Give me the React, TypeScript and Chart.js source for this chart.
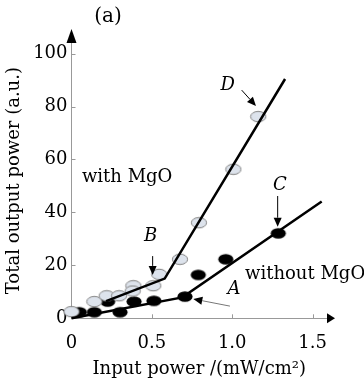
import React, { useEffect, useRef } from 'react';
import Chart from 'chart.js/auto';

// ---- data ----
const withMgOPoints = [
  { x: 0.0, y: 2.5 }, { x: 0.142, y: 6.3 }, { x: 0.219, y: 8.5 }, { x: 0.296, y: 8.5 },
  { x: 0.385, y: 12.3 }, { x: 0.381, y: 10.3 }, { x: 0.509, y: 12.3 }, { x: 0.546, y: 16.6 },
  { x: 0.675, y: 22.3 }, { x: 0.793, y: 36.1 }, { x: 1.007, y: 56.3 }, { x: 1.162, y: 76.2 },
];
const withoutMgOPoints = [
  { x: 0.049, y: 2.3 }, { x: 0.142, y: 2.3 }, { x: 0.225, y: 6.3 }, { x: 0.302, y: 2.3 },
  { x: 0.389, y: 6.3 }, { x: 0.513, y: 6.6 }, { x: 0.706, y: 8.2 }, { x: 0.789, y: 16.4 },
  { x: 0.96, y: 22.3 }, { x: 1.287, y: 32.1 },
];
const withMgOFit = [{ x: 0.215, y: 6.5 }, { x: 0.58, y: 15 }, { x: 1.329, y: 90.4 }];
const withoutMgOFit = [{ x: 0, y: 0 }, { x: 0.69, y: 7.9 }, { x: 1.557, y: 44.1 }];

const xTicks = [0, 0.5, 1.0, 1.5];
const yTicks = [0, 20, 40, 60, 80, 100];
const xTickLabels = ['0', '0.5', '1.0', '1.5'];
const yTickLabels = ['0', '20', '40', '60', '80', '100'];

const xTitle = 'Input power /(mW/cm\u00B2)';
const yTitle = 'Total output power (a.u.)';

const textNotes = [
  { text: '(a)', x: 0.227, y: 113.8, italic: false, align: 'center', size: 20 },
  { text: 'with MgO', x: 0.065, y: 53.4, italic: false, align: 'left', size: 18 },
  { text: 'without MgO', x: 1.08, y: 16.7, italic: false, align: 'left', size: 18 },
  { text: 'B', x: 0.493, y: 30.8, italic: true, align: 'center', size: 18 },
  { text: 'D', x: 0.972, y: 88.1, italic: true, align: 'center', size: 18 },
  { text: 'C', x: 1.297, y: 50.4, italic: true, align: 'center', size: 18 },
  { text: 'A', x: 1.011, y: 11.1, italic: true, align: 'center', size: 18 },
];
const arrowNotes = [
  { x1: 0.505, y1: 23.5, x2: 0.505, y2: 16.4, shaft: '#000' },
  { x1: 1.059, y1: 86.2, x2: 1.148, y2: 80.2, shaft: '#000' },
  { x1: 1.283, y1: 46.2, x2: 1.283, y2: 34.6, shaft: '#000' },
  { x1: 0.986, y1: 4.6, x2: 0.758, y2: 7.3, shaft: '#777' },
];

const FONT = '"DejaVu Serif", serif';

function makeEllipse(fill: string, stroke: string | null) {
  const c = document.createElement('canvas');
  c.width = 18;
  c.height = 13;
  const g = c.getContext('2d')!;
  g.beginPath();
  g.ellipse(9, 6.5, 7.6, 5.2, 0, 0, Math.PI * 2);
  g.fillStyle = fill;
  g.fill();
  if (stroke) {
    g.strokeStyle = stroke;
    g.lineWidth = 1;
    g.stroke();
  }
  return c;
}

function drawArrow(ctx: CanvasRenderingContext2D, x1: number, y1: number, x2: number, y2: number, shaft: string) {
  const ang = Math.atan2(y2 - y1, x2 - x1);
  const hl = 9, hw = 4;
  const bx = x2 - Math.cos(ang) * hl, by = y2 - Math.sin(ang) * hl;
  ctx.strokeStyle = shaft;
  ctx.lineWidth = 1;
  ctx.beginPath();
  ctx.moveTo(x1, y1);
  ctx.lineTo(bx, by);
  ctx.stroke();
  ctx.fillStyle = '#000';
  ctx.beginPath();
  ctx.moveTo(x2, y2);
  ctx.lineTo(bx + Math.sin(ang) * hw, by - Math.cos(ang) * hw);
  ctx.lineTo(bx - Math.sin(ang) * hw, by + Math.cos(ang) * hw);
  ctx.closePath();
  ctx.fill();
}

const decorPlugin = {
  id: 'decor',
  afterDraw(chart: any) {
    const { ctx, chartArea } = chart;
    const xs = chart.scales.x, ys = chart.scales.y;
    ctx.save();
    // inward tick marks
    ctx.strokeStyle = '#999';
    ctx.lineWidth = 1;
    yTicks.forEach((v) => {
      if (v === 0) return;
      const py = Math.round(ys.getPixelForValue(v)) + 0.5;
      ctx.beginPath();
      ctx.moveTo(chartArea.left, py);
      ctx.lineTo(chartArea.left + 4, py);
      ctx.stroke();
    });
    xTicks.forEach((v) => {
      if (v === 0) return;
      const px = Math.round(xs.getPixelForValue(v)) + 0.5;
      ctx.beginPath();
      ctx.moveTo(px, chartArea.bottom);
      ctx.lineTo(px, chartArea.bottom - 4);
      ctx.stroke();
    });
    // axis arrowheads
    ctx.fillStyle = '#000';
    const ax = chartArea.left, ay = chartArea.bottom;
    ctx.beginPath();
    ctx.moveTo(ax, chartArea.top - 14);
    ctx.lineTo(ax - 5, chartArea.top);
    ctx.lineTo(ax + 5, chartArea.top);
    ctx.closePath();
    ctx.fill();
    ctx.beginPath();
    ctx.moveTo(chartArea.right + 8, ay);
    ctx.lineTo(chartArea.right, ay - 5);
    ctx.lineTo(chartArea.right, ay + 5);
    ctx.closePath();
    ctx.fill();
    // text notes
    ctx.fillStyle = '#000';
    ctx.textBaseline = 'middle';
    textNotes.forEach((t) => {
      ctx.font = (t.italic ? 'italic ' : '') + t.size + 'px ' + FONT;
      ctx.textAlign = t.align as CanvasTextAlign;
      ctx.fillText(t.text, xs.getPixelForValue(t.x), ys.getPixelForValue(t.y));
    });
    // arrows
    arrowNotes.forEach((a) => {
      drawArrow(ctx, xs.getPixelForValue(a.x1), ys.getPixelForValue(a.y1), xs.getPixelForValue(a.x2), ys.getPixelForValue(a.y2), a.shaft);
    });
    ctx.restore();
  },
};

export default function App() {
  const ref = useRef<HTMLCanvasElement>(null);
  useEffect(() => {
    const grayDot = makeEllipse('#dde3ec', '#808080');
    const blackDot = makeEllipse('#000', null);
    const chart = new Chart(ref.current!, {
      type: 'scatter',
      data: {
        datasets: [
          {
            type: 'line', data: withMgOFit, borderColor: '#000', borderWidth: 2.5,
            pointRadius: 0, tension: 0, order: 0, clip: false,
          } as any,
          {
            type: 'line', data: withoutMgOFit, borderColor: '#000', borderWidth: 2.5,
            pointRadius: 0, tension: 0, order: 0, clip: false,
          } as any,
          { data: withMgOPoints, pointStyle: grayDot, order: 1, clip: false } as any,
          { data: withoutMgOPoints, pointStyle: blackDot, order: 1, clip: false } as any,
        ],
      },
      options: {
        responsive: false,
        animation: false,
        events: [],
        layout: { padding: { top: 43, right: 37, left: 0, bottom: 0 } },
        plugins: { legend: { display: false }, tooltip: { enabled: false } },
        scales: {
          x: {
            type: 'linear', min: 0, max: 1.59,
            afterBuildTicks: (s: any) => { s.ticks = xTicks.map((v) => ({ value: v })); },
            afterFit: (s: any) => { s.height = 62.7; },
            grid: { display: false, drawTicks: false },
            border: { display: true, color: '#999', width: 1 },
            ticks: {
              padding: 14, color: '#000', font: { family: FONT, size: 18 },
              maxRotation: 0, autoSkip: false,
              callback: (v: any) => xTickLabels[xTicks.indexOf(Number(v))] ?? '',
            },
            title: { display: true, text: xTitle, color: '#000', font: { family: FONT, size: 18 }, padding: { top: 0, bottom: 1 } },
          },
          y: {
            type: 'linear', min: 0, max: 104,
            afterBuildTicks: (s: any) => { s.ticks = yTicks.map((v) => ({ value: v })); },
            afterFit: (s: any) => { s.width = 71.5; },
            grid: { display: false, drawTicks: false },
            border: { display: true, color: '#999', width: 1 },
            ticks: {
              padding: 4, color: '#000', font: { family: FONT, size: 18 },
              callback: (v: any) => yTickLabels[yTicks.indexOf(Number(v))] ?? '',
            },
            title: { display: true, text: yTitle, color: '#000', font: { family: FONT, size: 18 }, padding: { top: 4, bottom: 0 } },
          },
        },
      },
      plugins: [decorPlugin],
    } as any);
    return () => chart.destroy();
  }, []);
  return (
    <div style={{ position: 'absolute', left: 0, top: 0, width: 364, height: 381, background: '#fff' }}>
      <canvas ref={ref} width={364} height={381} />
    </div>
  );
}
